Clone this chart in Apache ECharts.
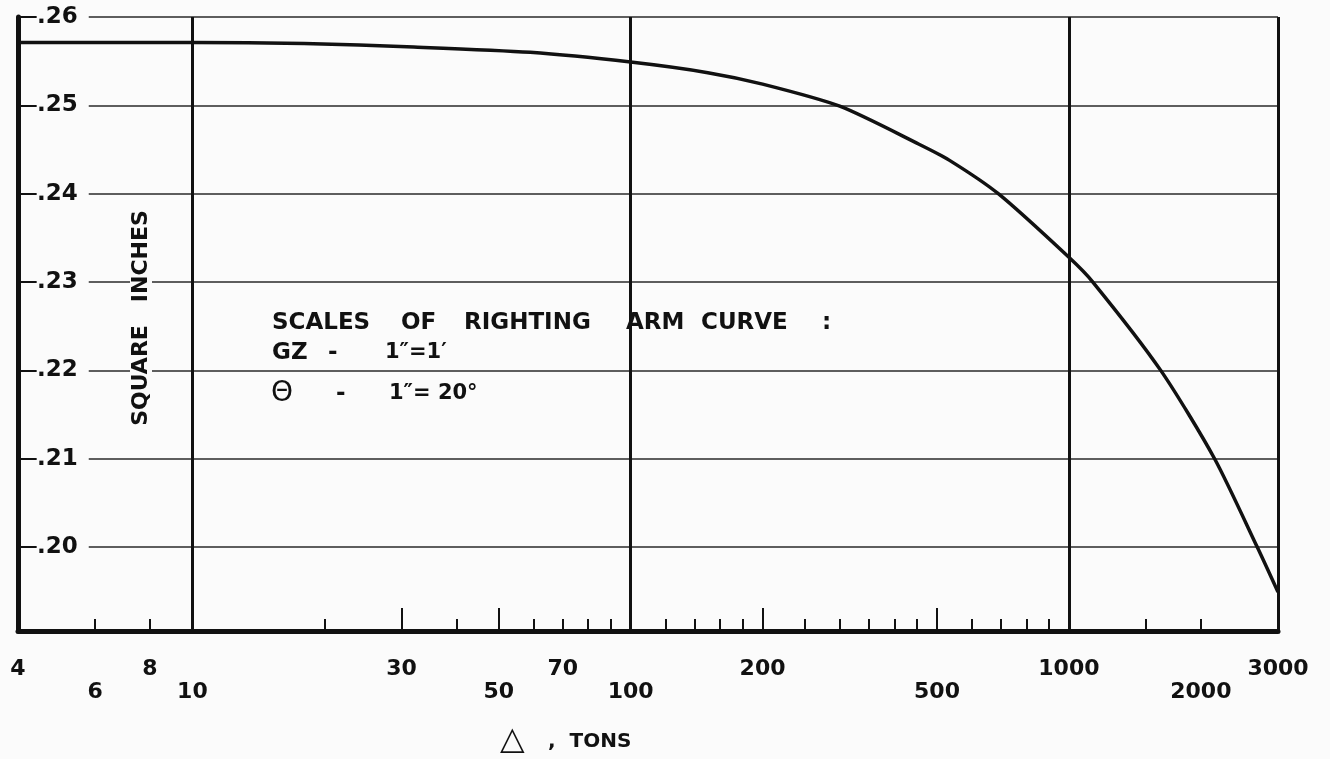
<!DOCTYPE html>
<html><head><meta charset="utf-8">
<script src="https://cdn.jsdelivr.net/npm/echarts@6/dist/echarts.min.js"></script>
<style>html,body{margin:0;padding:0;background:#fbfbfb}#c{width:1330px;height:759px}</style>
</head><body><div id="c"></div>
<script>
// Data
const tons = [4, 10, 18, 32, 59, 100, 150, 200, 300, 455, 533, 690, 1000, 1134, 1620, 2150, 2690, 3000];
const squareInches = [0.2571, 0.2571, 0.2570, 0.2566, 0.2560, 0.2549, 0.2537, 0.2524, 0.2499, 0.2456, 0.2438, 0.2400, 0.2328, 0.2300, 0.2200, 0.2100, 0.2000, 0.1949];
const labelsRow1 = [4, 8, 30, 70, 200, 1000, 3000];
const labelsRow2 = [6, 10, 50, 100, 500, 2000];
const minorTicks = [6, 8, 20, 40, 60, 70, 80, 90, 120, 140, 160, 180, 250, 300, 350, 400, 450, 600, 700, 800, 900, 1500, 2000];
const majorTicks = [30, 50, 200, 500];
const xMin = 4, xMax = 3000, yMin = 0.1905, yMax = 0.26;

const INK = '#111';
const BG = '#fbfbfb';
const FONT = '"DejaVu Sans", "Liberation Sans", sans-serif';

const chart = echarts.init(document.getElementById('c'), null, {renderer: 'canvas'});

function baseX(extra) {
  return Object.assign({
    type: 'log', logBase: 10, min: xMin, max: xMax, gridIndex: 0, position: 'bottom', offset: 0,
    axisLine: {show: false}, axisTick: {show: false}, axisLabel: {show: false}, splitLine: {show: false}
  }, extra);
}

const option = {
  backgroundColor: BG,
  animation: false,
  grid: {left: 18, right: 52, top: 17, bottom: 128, containLabel: false},
  xAxis: [
    baseX({
      axisLine: {show: true, lineStyle: {color: INK, width: 5}},
      splitLine: {show: true, lineStyle: {color: INK, width: 3}},
      axisLabel: {show: true, customValues: labelsRow1, margin: 27, color: INK,
        fontFamily: FONT, fontWeight: 'bold', fontSize: 22, formatter: v => String(Math.round(v))}
    }),
    baseX({
      axisTick: {show: true, customValues: minorTicks, inside: true, length: 12, lineStyle: {color: INK, width: 2}},
      axisLabel: {show: true, customValues: labelsRow2, margin: 50, color: INK,
        fontFamily: FONT, fontWeight: 'bold', fontSize: 22, formatter: v => String(Math.round(v))}
    }),
    baseX({
      axisTick: {show: true, customValues: majorTicks, inside: true, length: 23, lineStyle: {color: INK, width: 2}}
    })
  ],
  yAxis: {
    type: 'value', min: yMin, max: yMax,
    axisLine: {show: true, lineStyle: {color: INK, width: 5}},
    axisTick: {show: true, inside: true, length: 18, lineStyle: {color: INK, width: 2}},
    splitLine: {show: true, lineStyle: {color: '#2a2a2a', width: 1.5}},
    axisLabel: {
      inside: true, margin: 19, color: INK, fontFamily: FONT, fontWeight: 'bold', fontSize: 23,
      backgroundColor: BG, padding: [2, 11, 2, 0], showMinLabel: false,
      formatter: v => v < 0.195 ? '' : '.' + Math.round(v * 100)
    }
  },
  series: [{
    type: 'line', xAxisIndex: 0, yAxisIndex: 0,
    data: tons.map((t, i) => [t, squareInches[i]]),
    smooth: 0.25, symbol: 'none', z: 5,
    lineStyle: {color: INK, width: 3.5}
  }],
  graphic: [
    {type: 'text', x: 141, y: 318, rotation: Math.PI / 2, z: 10,
      style: {text: 'SQUARE   INCHES', align: 'center', verticalAlign: 'middle',
        font: 'bold 22px ' + FONT, fill: INK, backgroundColor: BG, padding: [0, 2]}},
    {type: 'text', x: 272, y: 323, z: 10, style: {text: 'SCALES', verticalAlign: 'middle', font: 'bold 23px ' + FONT, fill: INK}},
    {type: 'text', x: 401, y: 323, z: 10, style: {text: 'OF', verticalAlign: 'middle', font: 'bold 23px ' + FONT, fill: INK}},
    {type: 'text', x: 464, y: 323, z: 10, style: {text: 'RIGHTING', verticalAlign: 'middle', font: 'bold 23px ' + FONT, fill: INK}},
    {type: 'text', x: 626, y: 323, z: 10, style: {text: 'ARM', verticalAlign: 'middle', font: 'bold 23px ' + FONT, fill: INK}},
    {type: 'text', x: 701, y: 323, z: 10, style: {text: 'CURVE', verticalAlign: 'middle', font: 'bold 23px ' + FONT, fill: INK}},
    {type: 'text', x: 822, y: 323, z: 10, style: {text: ':', verticalAlign: 'middle', font: 'bold 23px ' + FONT, fill: INK}},
    {type: 'text', x: 272, y: 353, z: 10, style: {text: 'GZ', verticalAlign: 'middle', font: 'bold 23px ' + FONT, fill: INK}},
    {type: 'text', x: 328, y: 353, z: 10, style: {text: '-', verticalAlign: 'middle', font: 'bold 23px ' + FONT, fill: INK}},
    {type: 'text', x: 385, y: 353, z: 10, style: {text: '1\u2033=1\u2032', verticalAlign: 'middle', font: 'bold 21px ' + FONT, fill: INK}},
    {type: 'text', x: 271, y: 394, z: 10, style: {text: '\u0398', verticalAlign: 'middle', font: '28px ' + FONT, fill: INK}},
    {type: 'text', x: 336, y: 394, z: 10, style: {text: '-', verticalAlign: 'middle', font: 'bold 23px ' + FONT, fill: INK}},
    {type: 'text', x: 389, y: 394, z: 10, style: {text: '1\u2033= 20\u00B0', verticalAlign: 'middle', font: 'bold 21px ' + FONT, fill: INK}},
    {type: 'text', x: 500, y: 741, z: 10, style: {text: '\u25B3', verticalAlign: 'middle', font: '32px ' + FONT, fill: INK}},
    {type: 'text', x: 548, y: 742, z: 10, style: {text: ',  TONS', verticalAlign: 'middle', font: 'bold 20px ' + FONT, fill: INK}}
  ]
};
chart.setOption(option);
</script>
</body></html>
